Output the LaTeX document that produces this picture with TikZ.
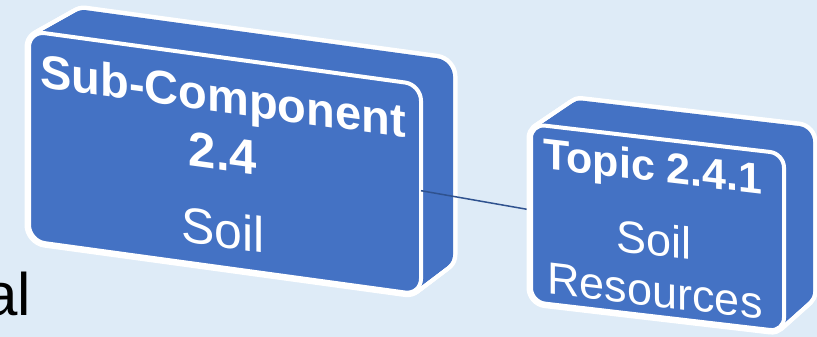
\documentclass[tikz,border=0pt]{standalone}
\usepackage{fontspec}
\setmainfont{Liberation Sans}
\definecolor{bgblue}{HTML}{DEEBF7}
\definecolor{boxblue}{HTML}{4472C4}
\definecolor{linkblue}{HTML}{2F528F}
% #1 left, #2 top, #3 width, #4 height, #5 slope, #6 back dx, #7 back dy, #8 back dw, #9 radius
\newcommand\slabbox[9]{%
  \foreach \k in {0,...,24}{%
    \pgfmathsetmacro\sL{#1+#6*\k/24}%
    \pgfmathsetmacro\sT{#2+#7*\k/24}%
    \pgfmathsetmacro\sW{#3+#8*\k/24}%
    \begin{scope}[shift={(\sL,\sT)},yslant=-#5]
      \draw[white,line width=9pt,rounded corners=#9pt] (0,0) rectangle (\sW,#4);
    \end{scope}}%
  \foreach \k in {0,...,24}{%
    \pgfmathsetmacro\sL{#1+#6*\k/24}%
    \pgfmathsetmacro\sT{#2+#7*\k/24}%
    \pgfmathsetmacro\sW{#3+#8*\k/24}%
    \begin{scope}[shift={(\sL,\sT)},yslant=-#5]
      \fill[boxblue,rounded corners=#9pt] (0,0) rectangle (\sW,#4);
    \end{scope}}%
  \begin{scope}[shift={(#1,#2)},yslant=-#5]
    \draw[white,line width=4pt,fill=boxblue,rounded corners=#9pt] (0,0) rectangle (#3,#4);
  \end{scope}}
\tikzset{
  boxtext/.style={text=white,inner sep=0pt,transform shape,anchor=base},
  link/.style={linkblue,line width=1.5pt}
}
\begin{document}
\begin{tikzpicture}[x=1pt,y=-1pt]
  \useasboundingbox (0,0) rectangle (817,337);
  \clip (0,0) rectangle (817,337);
  \fill[bgblue] (0,0) rectangle (817,337);
  % left fragment of text
  \node[anchor=base east,inner sep=0pt,font=\fontsize{60}{60}\selectfont] (frag) at (31,315) {al};
  % connector end points
  \begin{scope}[shift={(29,31)},yslant=-0.137]
    \coordinate (b1e) at (392,106);
  \end{scope}
  \begin{scope}[shift={(531,124)},yslant=-0.117]
    \coordinate (b2w) at (0,86);
  \end{scope}
  % box 1
  \slabbox{29}{31}{392}{210}{0.137}{41}{-23}{-9}{16}
  \draw[link] (b1e) -- (b2w);
  % box 2
  \slabbox{531}{124}{253}{178}{0.117}{37}{-25}{-8}{14}
  % texts box 1
  \begin{scope}[shift={(29,31)},yslant=-0.137]
    \node[boxtext,font=\bfseries\fontsize{47}{47}\selectfont] (s1a) at (194,55) {Sub-Component};
    \node[boxtext,font=\bfseries\fontsize{49}{49}\selectfont] (s1b) at (194,113) {2.4};
    \node[boxtext,font=\fontsize{50}{50}\selectfont] (s1c) at (194,190) {Soil};
  \end{scope}
  % texts box 2
  \begin{scope}[shift={(531,124)},yslant=-0.117]
    \node[boxtext,font=\bfseries\fontsize{43}{43}\selectfont] (t1a) at (122,43) {Topic 2.4.1};
    \node[boxtext,font=\fontsize{45}{45}\selectfont] (t1b) at (123,117) {Soil};
    \node[boxtext,font=\fontsize{45}{45}\selectfont] (t1c) at (124,168) {Resources};
  \end{scope}
\end{tikzpicture}
\end{document}
